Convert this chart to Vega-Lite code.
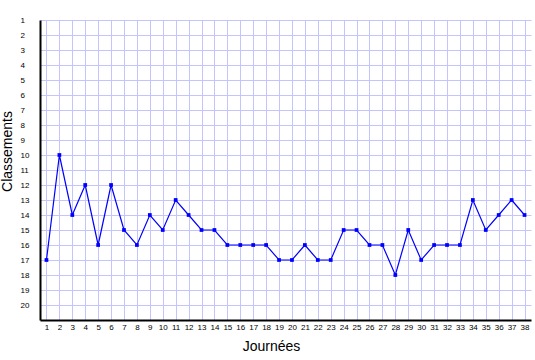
{
  "$schema": "https://vega.github.io/schema/vega-lite/v6.json",
  "width": 491,
  "height": 300,
  "autosize": {"type": "none"},
  "padding": {"left": 40, "top": 20, "right": 4, "bottom": 40},
  "background": "white",
  "config": {"view": {"stroke": null}},
  "data": {"values": [
    {"j": 1, "c": 17}, {"j": 2, "c": 10}, {"j": 3, "c": 14}, {"j": 4, "c": 12},
    {"j": 5, "c": 16}, {"j": 6, "c": 12}, {"j": 7, "c": 15}, {"j": 8, "c": 16},
    {"j": 9, "c": 14}, {"j": 10, "c": 15}, {"j": 11, "c": 13}, {"j": 12, "c": 14},
    {"j": 13, "c": 15}, {"j": 14, "c": 15}, {"j": 15, "c": 16}, {"j": 16, "c": 16},
    {"j": 17, "c": 16}, {"j": 18, "c": 16}, {"j": 19, "c": 17}, {"j": 20, "c": 17},
    {"j": 21, "c": 16}, {"j": 22, "c": 17}, {"j": 23, "c": 17}, {"j": 24, "c": 15},
    {"j": 25, "c": 15}, {"j": 26, "c": 16}, {"j": 27, "c": 16}, {"j": 28, "c": 18},
    {"j": 29, "c": 15}, {"j": 30, "c": 17}, {"j": 31, "c": 16}, {"j": 32, "c": 16},
    {"j": 33, "c": 16}, {"j": 34, "c": 13}, {"j": 35, "c": 15}, {"j": 36, "c": 14},
    {"j": 37, "c": 13}, {"j": 38, "c": 14}
  ]},
  "encoding": {
    "x": {
      "field": "j", "type": "quantitative",
      "scale": {"domain": [0.5, 38.5], "nice": false, "zero": false},
      "axis": {
        "title": "Journées",
        "values": [1,2,3,4,5,6,7,8,9,10,11,12,13,14,15,16,17,18,19,20,21,22,23,24,25,26,27,28,29,30,31,32,33,34,35,36,37,38],
        "ticks": false,
        "labelPadding": 3,
        "labelFont": "Liberation Sans",
        "labelFontSize": 8,
        "labelColor": "black",
        "labelFlush": false,
        "labelOverlap": false,
        "domainColor": "black",
        "domainWidth": 2,
        "gridColor": "#c4c4ff",
        "gridWidth": 1,
        "gridOpacity": 1,
        "titleFont": "Liberation Sans",
        "titleFontSize": 14,
        "titleFontWeight": "normal",
        "titleColor": "black",
        "titleX": 231,
        "titleY": 30,
        "titleBaseline": "alphabetic",
        "titleAlign": "center"
      }
    },
    "y": {
      "field": "c", "type": "quantitative",
      "scale": {"domain": [1, 21], "reverse": true, "nice": false, "zero": false},
      "axis": {
        "title": "Classements",
        "values": [1,2,3,4,5,6,7,8,9,10,11,12,13,14,15,16,17,18,19,20],
        "ticks": false,
        "labelAlign": "left",
        "labelPadding": 20,
        "labelFont": "Liberation Sans",
        "labelFontSize": 8,
        "labelColor": "black",
        "labelFlush": false,
        "labelOverlap": false,
        "domainColor": "black",
        "domainWidth": 2,
        "gridColor": "#c4c4ff",
        "gridWidth": 1,
        "gridOpacity": 1,
        "titleFont": "Liberation Sans",
        "titleFontSize": 14,
        "titleFontWeight": "normal",
        "titleColor": "black",
        "titleAngle": -90,
        "titleX": -40,
        "titleY": 131,
        "titleBaseline": "top",
        "titleAlign": "center"
      }
    }
  },
  "layer": [
    {"mark": {"type": "line", "color": "#0000ff", "strokeWidth": 1.2}},
    {"mark": {"type": "point", "shape": "square", "filled": true, "color": "#0000ff", "size": 14, "opacity": 1}}
  ]
}
